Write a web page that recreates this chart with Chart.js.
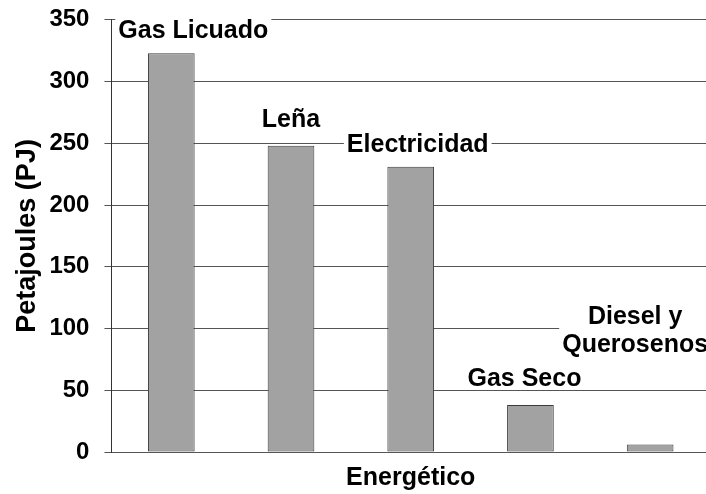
<!DOCTYPE html>
<html>
<head>
<meta charset="utf-8">
<script src="https://cdn.jsdelivr.net/npm/chart.js@4.4.1/dist/chart.umd.min.js"></script>
<style>
  html, body { margin: 0; padding: 0; background: #fff; overflow: hidden; }
  canvas { display: block; }
</style>
</head>
<body>
<canvas id="energyChart" width="710" height="494"></canvas>
<script>
const categories = ["Gas Licuado", "Leña", "Electricidad", "Gas Seco", "Diesel y Querosenos"];
const barLabels = [["Gas Licuado"], ["Leña"], ["Electricidad"], ["Gas Seco"], ["Diesel y", "Querosenos"]];
const values = [323, 248, 231, 38, 6];
const yTicks = [0, 50, 100, 150, 200, 250, 300, 350];

const FONT = "'Liberation Sans', Arial, sans-serif";

// label placement relative to bar top: [dx, dy of last baseline]
const labelOffsets = [[22, -15], [0, -19], [7, -15], [-6, -19], [-15, -93]];

const barLabelPlugin = {
  id: "barLabels",
  afterDatasetsDraw(chart) {
    const { ctx } = chart;
    const meta = chart.getDatasetMeta(0);
    const lineGap = 28;
    ctx.save();
    ctx.font = "bold 25px " + FONT;
    ctx.textAlign = "center";
    ctx.textBaseline = "alphabetic";
    meta.data.forEach((bar, i) => {
      const lines = barLabels[i];
      const [dx, dy] = labelOffsets[i];
      const cx = bar.x + dx;
      const lastY = bar.y + dy;
      const firstY = lastY - lineGap * (lines.length - 1);
      const w = Math.max(...lines.map(t => ctx.measureText(t).width));

      ctx.fillStyle = "#fff";
      ctx.fillRect(cx - w / 2 - 3, firstY - 22, w + 6, lastY - firstY + 25);

      ctx.fillStyle = "#000";
      lines.forEach((t, k) => ctx.fillText(t, cx, firstY + k * lineGap));
    });
    ctx.restore();
  }
};

new Chart(document.getElementById("energyChart"), {
  type: "bar",
  data: {
    labels: categories,
    datasets: [{
      data: values,
      backgroundColor: "#a2a2a2",
      borderColor: "#3a3a3a",
      borderWidth: 1,
      borderSkipped: false,
      barPercentage: 0.39,
      categoryPercentage: 1
    }]
  },
  options: {
    responsive: false,
    animation: false,
    layout: { padding: { top: 12, right: 0, bottom: 0, left: 0 } },
    plugins: {
      legend: { display: false },
      tooltip: { enabled: false }
    },
    scales: {
      x: {
        grid: { display: false, drawTicks: false },
        border: { display: false },
        ticks: { display: false },
        title: {
          display: true,
          text: "Energético",
          color: "#000",
          font: { family: FONT, size: 25, weight: "bold" },
          padding: { top: 11, bottom: 1 }
        }
      },
      y: {
        min: 0,
        max: 350,
        afterBuildTicks: (scale) => {
          scale.ticks = yTicks.map(v => ({ value: v }));
        },
        grid: { color: "#555", lineWidth: 1, drawTicks: true, tickLength: 7 },
        border: { display: true, color: "#333", width: 1 },
        ticks: {
          color: "#000",
          padding: 15,
          font: { family: FONT, size: 24, weight: "bold", lineHeight: 0.4 }
        },
        title: {
          display: true,
          text: "Petajoules (PJ)",
          color: "#000",
          font: { family: FONT, size: 27, weight: "bold" },
          padding: { top: 11, bottom: -9 }
        }
      }
    }
  },
  plugins: [barLabelPlugin]
});
</script>
</body>
</html>
